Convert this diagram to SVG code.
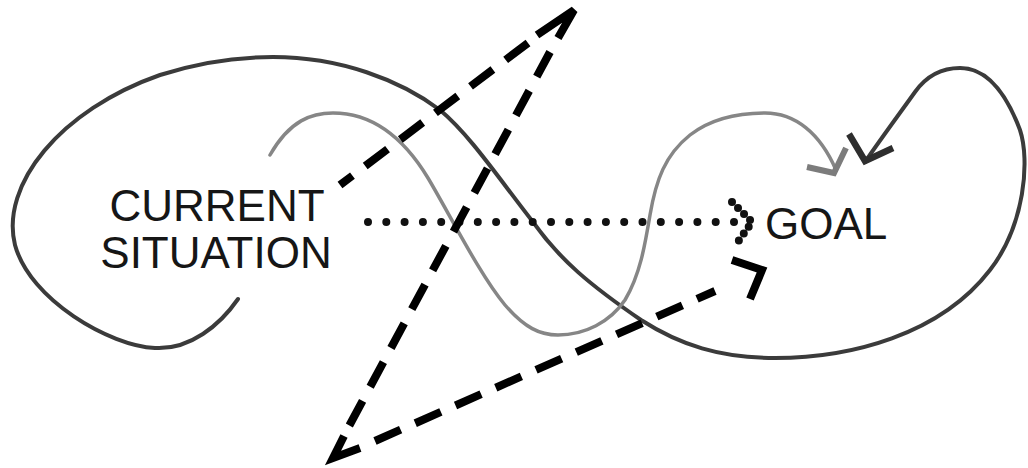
<svg xmlns="http://www.w3.org/2000/svg" width="1028" height="468" viewBox="0 0 1028 468">
  <style>
    .lbl { font-family: "Liberation Sans", Arial, sans-serif; font-size: 44px; fill: #161616; }
    .dark { fill: none; stroke: #3b3b3b; stroke-width: 4; stroke-linecap: round; stroke-linejoin: round; }
    .grey { fill: none; stroke: #868686; stroke-width: 3.5; stroke-linecap: round; stroke-linejoin: round; }
    .dark-head { fill: none; stroke: #2e2e2e; stroke-width: 6.5; stroke-linejoin: miter; }
    .grey-head { fill: none; stroke: #7c7c7c; stroke-width: 6; stroke-linejoin: miter; }
    .dot { fill: none; stroke: #111; stroke-width: 8; stroke-linecap: round; }
    .dash { fill: none; stroke: #000; stroke-width: 8; stroke-dasharray: 28 16; }
    .solid { fill: none; stroke: #000; stroke-width: 8; stroke-linejoin: miter; }
  </style>
  <rect width="1028" height="468" fill="#fff"/>
  <g id="connectors">
    <g id="dark-loop">
      <path class="dark" d="M238,299 C220,325 190,350 155,348 C110,346 30,300 15,245 C0,185 60,110 160,75 C200,62 240,57 273,57 C340,57 400,80 440,110 C470,135 500,180 533,222 C560,260 590,285 641,320 C680,345 720,358 775,358 C850,358 940,335 990,270 C1025,225 1030,160 1020,130 C1005,90 985,68 960,68 C940,68 925,78 915,92 C900,113 880,140 865,162"/>
      <path class="dark-head" d="M849,134 L865,161 L893,148"/>
    </g>
    <g id="grey-wave">
      <path class="grey" d="M270,155 C290,120 312,113 333,113 C375,113 405,140 428,178 C450,215 480,275 505,305 C525,328 540,335 558,335 C585,335 610,322 625,300 C640,275 645,245 650,215 C656,180 665,155 690,135 C712,118 740,113 765,113 C795,113 820,133 836,170"/>
      <path class="grey-head" d="M807,167 L834,173 L846,148"/>
    </g>
    <g id="dotted-path">
      <path class="dot" stroke-dasharray="0 18.3" d="M368,222 H735"/>
      <path class="dot" stroke-width="7" stroke-dasharray="0 8.5" d="M732,202 L752,222 L735,246"/>
    </g>
    <g id="dashed-path">
      <path class="dash" d="M528,43 L340,185"/>
      <path class="solid" d="M537,35 L574,10 L558,38"/>
      <path class="dash" d="M550,52 L348,428"/>
      <path class="solid" d="M344,436 L333,458 L360,448"/>
      <path class="dash" d="M375,441 L715,291"/>
      <path class="solid" d="M732,260 L762,270 L750,299"/>
    </g>
  </g>
  <g id="current">
    <text class="lbl" x="217" y="221" text-anchor="middle">CURRENT</text>
    <text class="lbl" x="216" y="268" text-anchor="middle">SITUATION</text>
  </g>
  <g id="goal">
    <text class="lbl" x="765" y="239">GOAL</text>
  </g>
</svg>
